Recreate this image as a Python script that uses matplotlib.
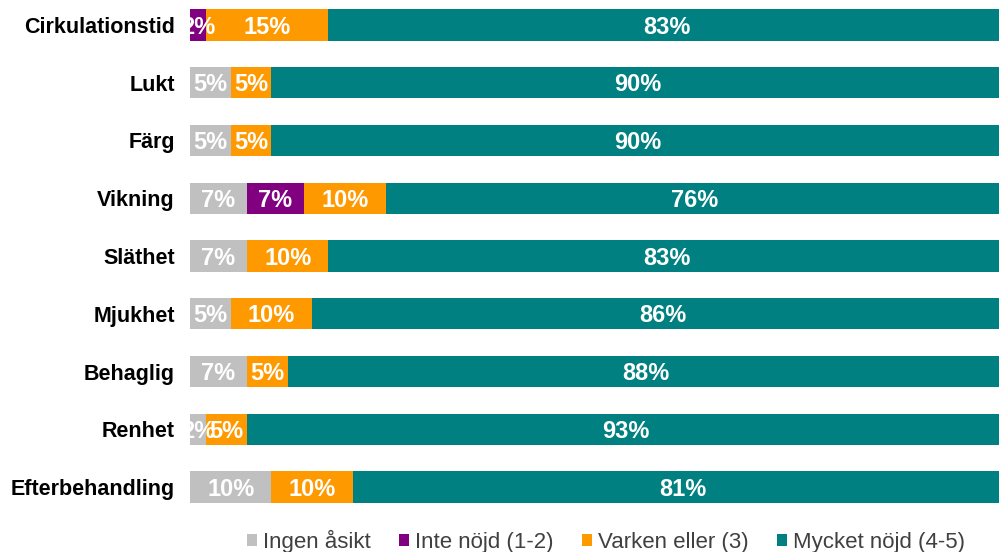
import numpy as np
import matplotlib.pyplot as plt

plt.rcParams['font.family'] = ['Liberation Sans', 'DejaVu Sans']

# ==== data ====
categories = ['Cirkulationstid', 'Lukt', 'Färg', 'Vikning', 'Släthet',
              'Mjukhet', 'Behaglig', 'Renhet', 'Efterbehandling']
series_names = ['Ingen åsikt', 'Inte nöjd (1-2)', 'Varken eller (3)', 'Mycket nöjd (4-5)']
ingen_asikt = [0, 5, 5, 7, 7, 5, 7, 2, 10]
inte_nojd = [2, 0, 0, 7, 0, 0, 0, 0, 0]
varken_eller = [15, 5, 5, 10, 10, 10, 5, 5, 10]
mycket_nojd = [83, 90, 90, 76, 83, 86, 88, 93, 81]

colors = ['#C0C0C0', '#800080', '#FF9900', '#008080']

# ==== plot ====
fig = plt.figure(figsize=(9.99, 5.52), dpi=100)
ax = fig.add_axes([190 / 999, 0.0654, 1 - 190 / 999, 0.9417])

y = np.arange(len(categories))
left = np.zeros(len(categories))
for name, vals, col in zip(series_names,
                           [ingen_asikt, inte_nojd, varken_eller, mycket_nojd], colors):
    vals = np.array(vals, dtype=float)
    bars = ax.barh(y, vals, left=left, height=0.54, color=col, label=name)
    for b, v in zip(bars, vals):
        if v <= 0:
            continue
        ax.annotate(f'{v:.0f}%',
                    (b.get_x() + b.get_width() / 2, b.get_y() + b.get_height() / 2),
                    xytext=(0, -1.5), textcoords='offset points',
                    ha='center', va='center', color='white',
                    fontsize=17, fontweight='bold', annotation_clip=True, clip_on=True)
    left += vals

ax.set_xlim(0, 99.3)
ax.set_ylim(len(categories) - 0.5, -0.5)
ax.set_yticks(y)
ax.set_yticklabels(categories, fontsize=15.5, fontweight='bold')
ax.tick_params(axis='y', length=0, pad=11)
ax.set_xticks([])
for s in ax.spines.values():
    s.set_visible(False)

fig.legend(loc='center', bbox_to_anchor=(606 / 999, 1 - 541 / 552), ncol=4,
           frameon=False, fontsize=16, handlelength=0.45, handleheight=0.45,
           handletextpad=0.25, columnspacing=1.3, labelcolor='#404040')

plt.savefig('out.png', dpi=100)
